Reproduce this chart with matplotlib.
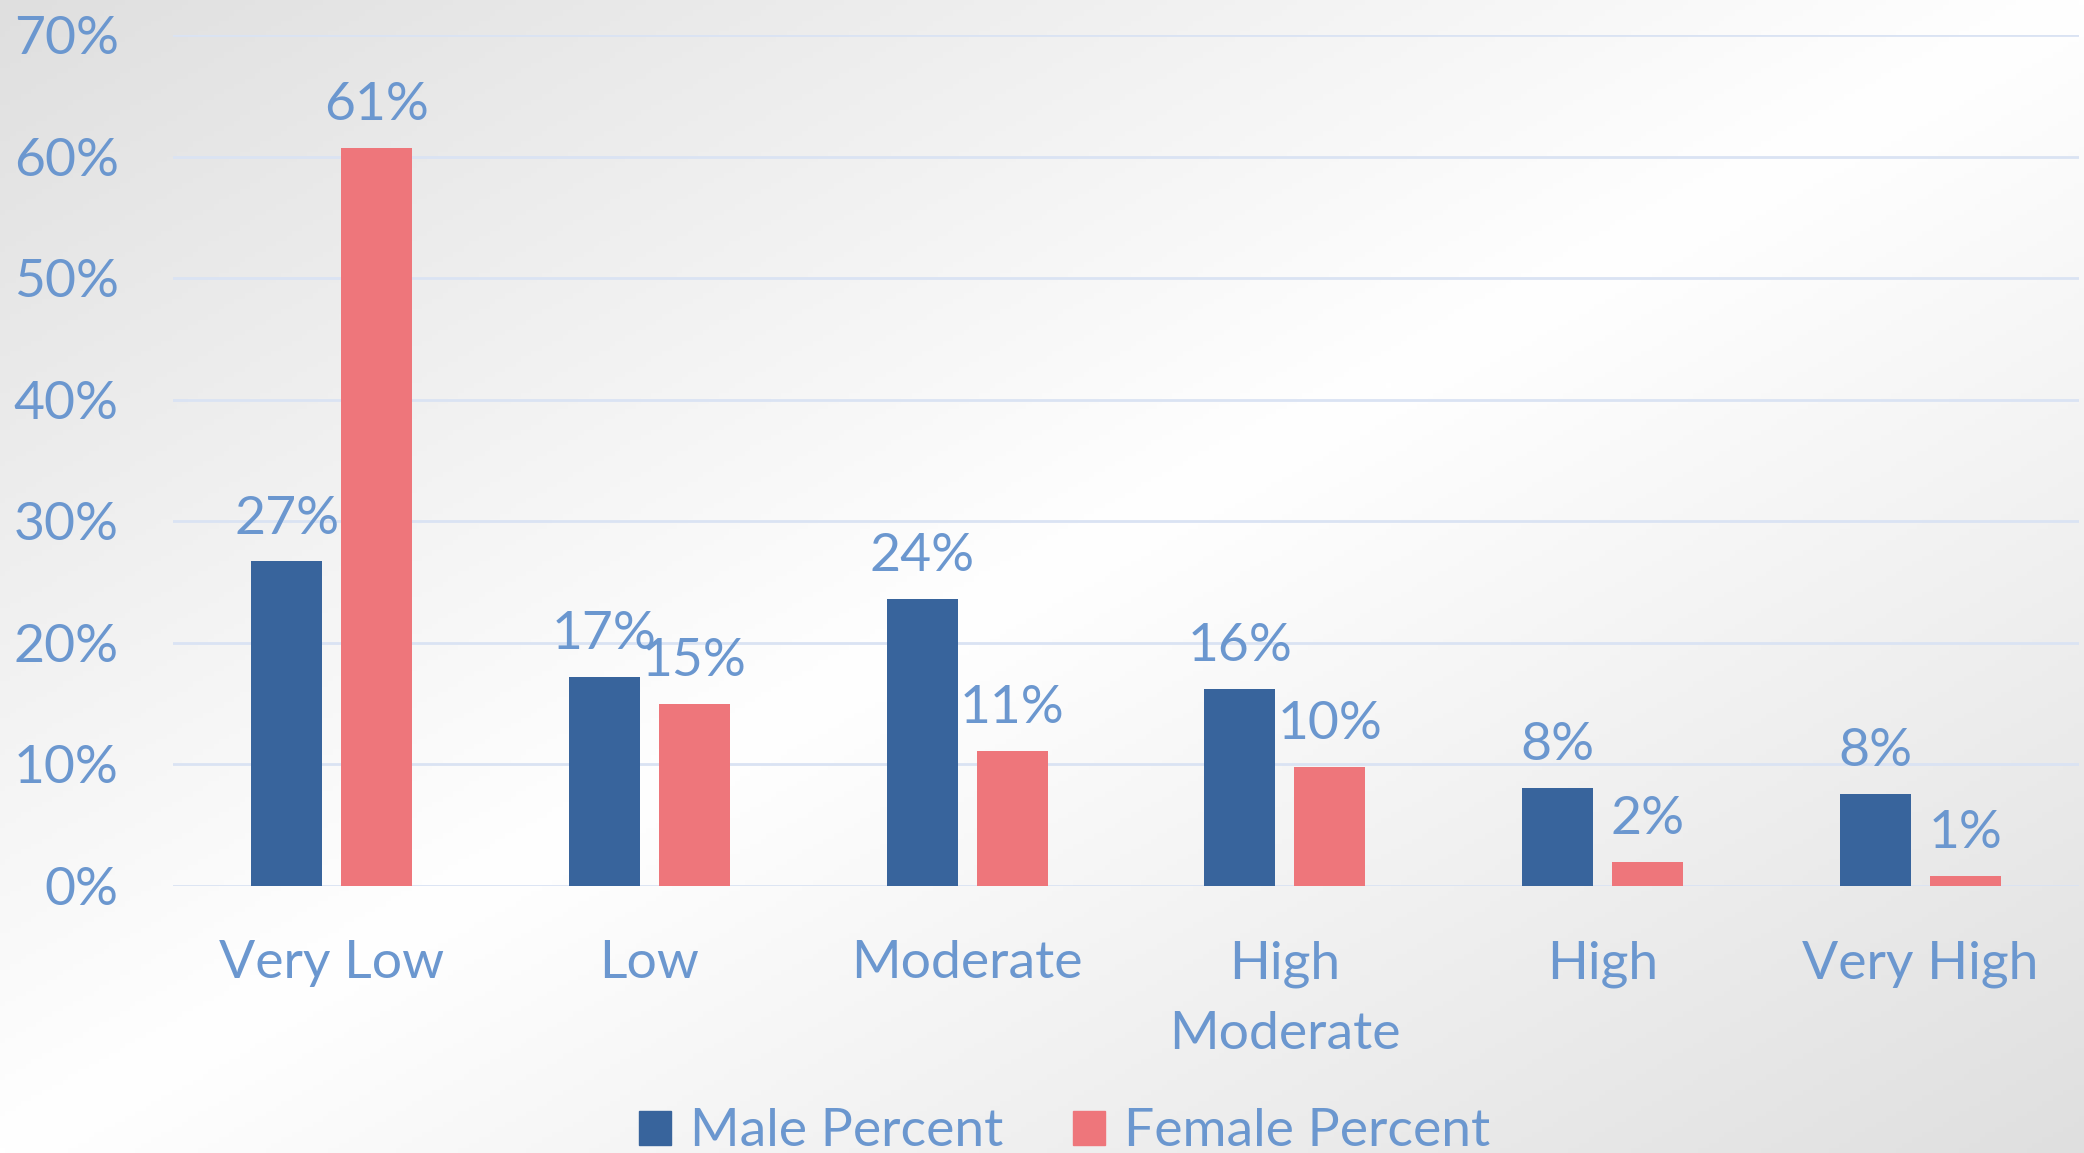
import numpy as np
import matplotlib.pyplot as plt
from matplotlib.patches import Patch

categories = ['Very Low', 'Low', 'Moderate', 'High\nModerate', 'High', 'Very High']
male_pct = [0.267, 0.172, 0.236, 0.162, 0.081, 0.076]
female_pct = [0.607, 0.150, 0.111, 0.098, 0.020, 0.008]
y_ticks = [0.0, 0.1, 0.2, 0.3, 0.4, 0.5, 0.6, 0.7]

text_color = '#6B97CF'
male_color = '#38649C'
female_color = '#EE767B'
grid_color = '#DAE3F3'

plt.rcParams['font.family'] = ['Lato', 'DejaVu Sans']

W, H = 2084, 1153
fig = plt.figure(figsize=(W / 100, H / 100), dpi=100)

# soft diagonal gradient behind everything: grey corners, white middle band
bg = fig.add_axes([0, 0, 1, 1], zorder=-10)
xx, yy = np.meshgrid(np.linspace(0, 1, 400), np.linspace(0, 1, 220))
d = np.abs((xx + yy) / 2 - 0.5)
shade = 1 - 0.25 * d
bg.imshow(np.dstack([shade, shade, shade]), aspect='auto', extent=[0, 1, 1, 0])
bg.axis('off')

ax = fig.add_axes([173 / W, 1 - 886 / H, (2079 - 173) / W, (886 - 35) / H])
ax.set_facecolor('none')

x = np.arange(len(categories))
off = 0.1417
bw = 0.2236
ax.bar(x - off, male_pct, bw, color=male_color, zorder=3)
ax.bar(x + off, female_pct, bw, color=female_color, zorder=3)

for xi, m, f in zip(x, male_pct, female_pct):
    ax.annotate(f'{m * 100:.0f}%', (xi - off, m), xytext=(0, 20), textcoords='offset points',
                ha='center', va='baseline', fontsize=38.5, color=text_color)
    ax.annotate(f'{f * 100:.0f}%', (xi + off, f), xytext=(0, 20), textcoords='offset points',
                ha='center', va='baseline', fontsize=38.5, color=text_color)

ax.set_xlim(-0.5, len(categories) - 0.5)
ax.set_ylim(0, 0.7)
ax.set_yticks(y_ticks)
ax.set_yticklabels([f'{t * 100:.0f}%' for t in y_ticks])
ax.set_xticks(x)
ax.set_xticklabels(categories, linespacing=1.62)
ax.tick_params(axis='both', length=0, labelsize=38.5, labelcolor=text_color)
ax.tick_params(axis='y', pad=39)
ax.tick_params(axis='x', pad=39)
ax.grid(axis='y', color=grid_color, linewidth=2, zorder=0)
for s in ax.spines.values():
    s.set_visible(False)

handles = [Patch(color=male_color, label='Male Percent'),
           Patch(color=female_color, label='Female Percent')]
fig.legend(handles=handles, loc='center', bbox_to_anchor=(0.5108, 1 - 1132 / H), ncol=2,
           frameon=False, fontsize=38.5, labelcolor=text_color, handlelength=0.6,
           handleheight=0.6, handletextpad=0.35, columnspacing=1.3, borderpad=0)

fig.savefig('out.png', dpi=100)
